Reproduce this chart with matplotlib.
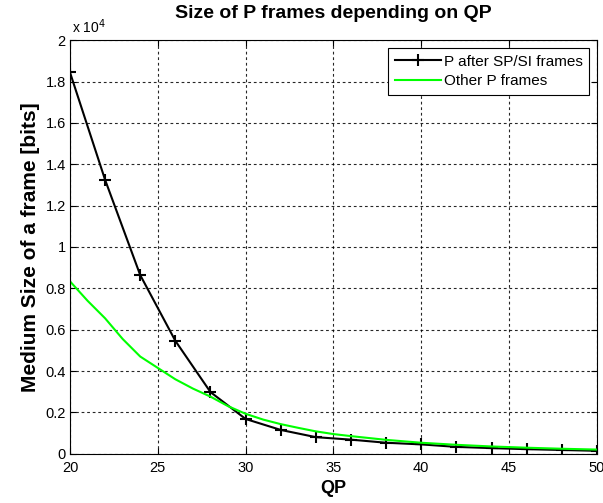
import matplotlib
matplotlib.use("Agg")
import matplotlib.pyplot as plt

# ── Data ──────────────────────────────────────────────────────────────────────
qp = [20, 22, 24, 26, 28, 30, 32, 34, 36, 38, 40, 42, 44, 46, 48, 50]

# Medium size of a P frame that follows SP/SI frames [bits]
p_after_spsi = [18450, 13250, 8640, 5460, 2980, 1680, 1150, 800, 680, 530,
                450, 330, 270, 220, 180, 140]

# Medium size of the other P frames [bits], one value per QP
qp_other = list(range(20, 51))
p_other = [8340, 7400, 6550, 5550, 4700, 4150, 3600, 3150, 2760, 2300,
           1930, 1650, 1430, 1250, 1080, 950, 850, 760, 670, 600,
           530, 480, 430, 390, 350, 320, 290, 265, 240, 220, 200]

y_ticks = [0, 2000, 4000, 6000, 8000, 10000, 12000, 14000, 16000, 18000, 20000]
y_tick_labels = ["0", "0.2", "0.4", "0.6", "0.8", "1", "1.2", "1.4", "1.6", "1.8", "2"]
x_ticks = [20, 25, 30, 35, 40, 45, 50]

# ── Figure ────────────────────────────────────────────────────────────────────
plt.rcParams["font.family"] = ["Liberation Sans", "DejaVu Sans"]

fig = plt.figure(figsize=(6.03, 5.03), dpi=100)
ax = fig.add_axes([0.116, 0.098, 0.874, 0.822])

ax.plot(qp, p_after_spsi, color="black", linewidth=1.5, marker="+",
        markersize=9, markeredgewidth=1.5, label="P after SP/SI frames")
ax.plot(qp_other, p_other, color=(0, 1, 0), linewidth=1.5, label="Other P frames")

ax.set_xlim(20, 50)
ax.set_ylim(0, 20000)
ax.set_xticks(x_ticks)
ax.set_yticks(y_ticks)
ax.set_yticklabels(y_tick_labels)

ax.tick_params(direction="in", top=True, right=True, labelsize=10.5,
               length=4, width=0.8, pad=3)
ax.tick_params(axis="x", pad=5)
ax.grid(True, color="black", linestyle=(0, (2.5, 2.5)), linewidth=0.8, alpha=0.85)
for spine in ax.spines.values():
    spine.set_linewidth(0.8)

ax.text(0.003, 1.01, r"x 10$^{4}$", transform=ax.transAxes,
        fontsize=10, ha="left", va="bottom")

ax.set_title("Size of P frames depending on QP", fontsize=14,
             fontweight="bold", pad=16)
ax.set_xlabel("QP", fontsize=13, fontweight="bold", labelpad=4)
ax.set_ylabel("Medium Size of a frame [bits]", fontsize=15,
              fontweight="bold", labelpad=4)

leg = ax.legend(loc="upper right", fontsize=11, frameon=True, fancybox=False,
                edgecolor="black", framealpha=1, borderaxespad=0.5,
                handlelength=3.0, handletextpad=0.2, borderpad=0.45,
                labelspacing=0.35)
leg.get_frame().set_linewidth(0.8)

fig.savefig("out.png", dpi=100)
plt.close(fig)
